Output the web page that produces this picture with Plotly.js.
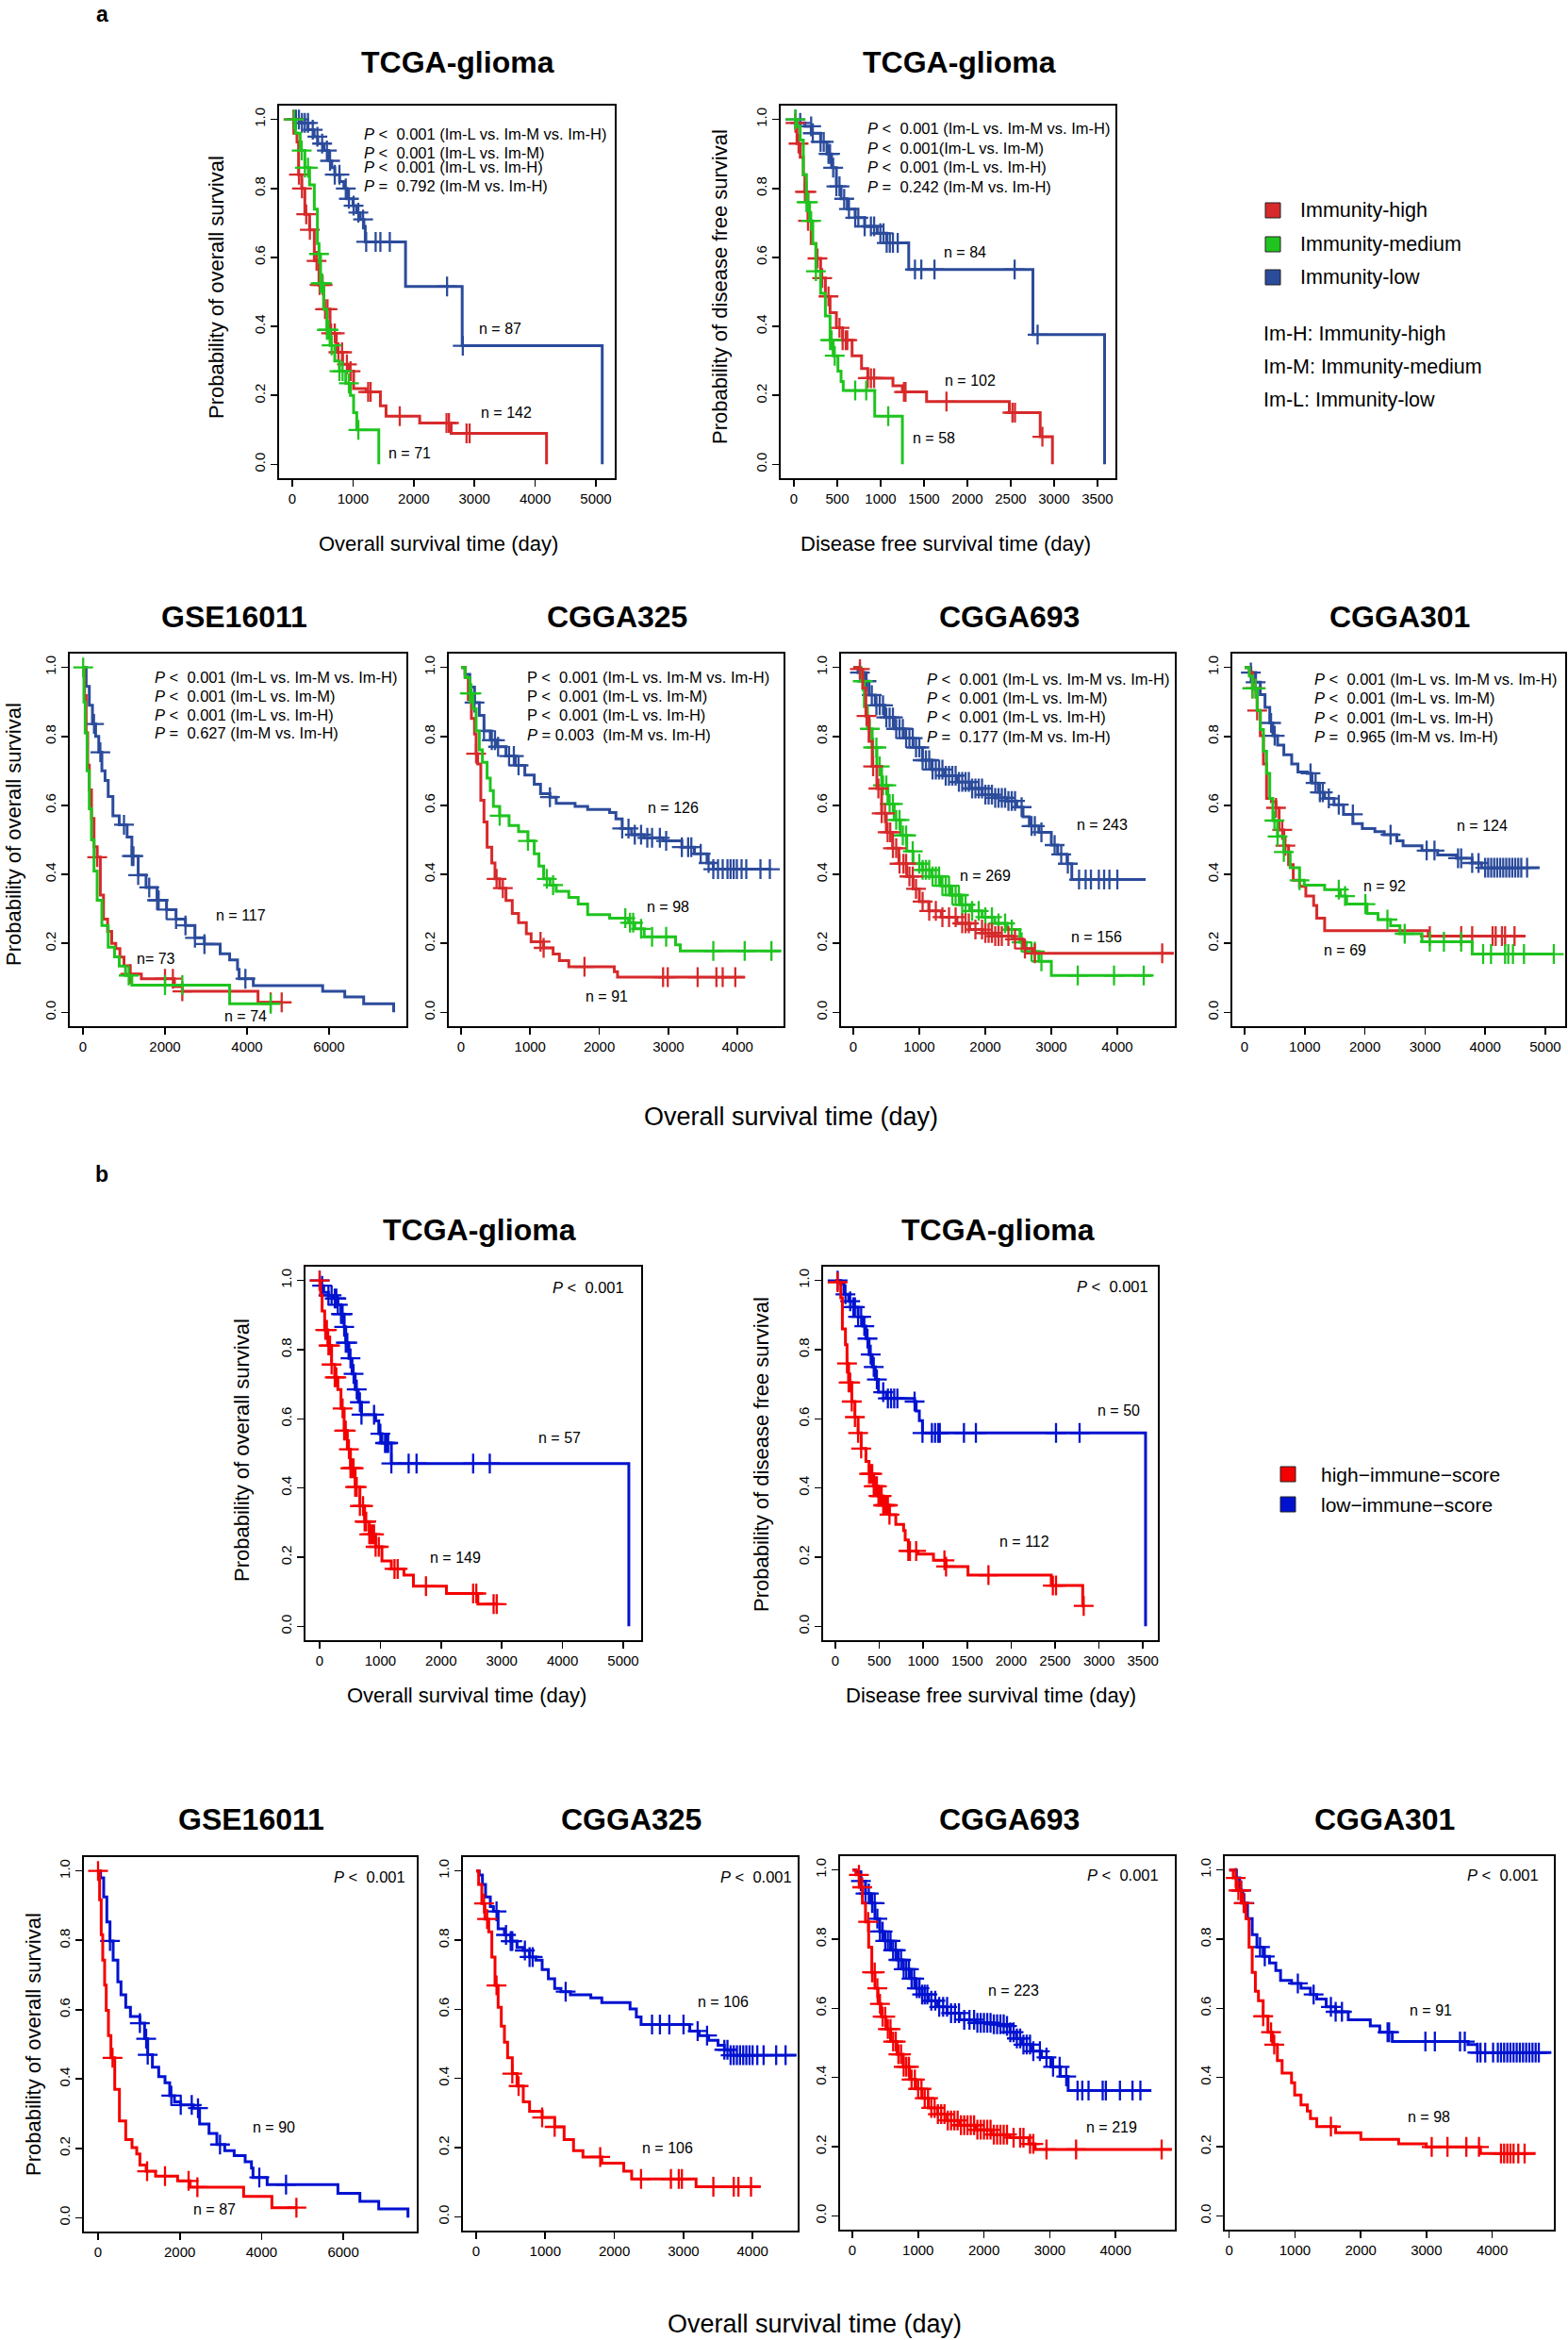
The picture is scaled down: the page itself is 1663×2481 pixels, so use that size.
<!DOCTYPE html>
<html><head><meta charset="utf-8">
<script src="https://cdn.plot.ly/plotly-3.0.1.min.js"></script>
<style>html,body{margin:0;padding:0;background:#fff}#chart{width:1663px;height:2481px}</style>
</head><body><div id="chart"></div>
<script>
// ===================== DATA (Kaplan-Meier curves) =====================
// ---- a: TCGA-glioma overall survival ----
const a1_high_t = [0, 26, 78, 104, 155, 207, 285, 363, 440, 518, 622, 725, 829, 932, 1010, 1217, 1451, 1544, 2098, 2616, 4187];
const a1_high_s = [1, 0.96, 0.935, 0.84, 0.80, 0.725, 0.68, 0.59, 0.52, 0.45, 0.38, 0.325, 0.29, 0.27, 0.22, 0.21, 0.17, 0.14, 0.12, 0.09, 0];
const a1_high_c = [20, 110, 160, 230, 290, 400, 450, 500, 540, 580, 640, 700, 760, 820, 900, 960, 1250, 1290, 1770, 2540, 2580, 2870, 2920];
const a1_mid_t = [0, 52, 130, 207, 285, 363, 414, 440, 466, 518, 570, 622, 700, 777, 881, 958, 1010, 1062, 1425];
const a1_mid_s = [1, 0.96, 0.91, 0.86, 0.81, 0.74, 0.64, 0.61, 0.525, 0.45, 0.39, 0.345, 0.30, 0.27, 0.235, 0.20, 0.15, 0.10, 0];
const a1_mid_c = [30, 155, 207, 259, 440, 466, 492, 570, 596, 648, 777, 829, 932, 1088];
const a1_low_t = [0, 150, 260, 360, 420, 520, 600, 650, 700, 780, 850, 900, 1000, 1060, 1120, 1180, 1202, 1865, 2798, 5104];
const a1_low_s = [1, 0.99, 0.97, 0.95, 0.93, 0.91, 0.88, 0.86, 0.84, 0.82, 0.80, 0.77, 0.75, 0.73, 0.71, 0.69, 0.645, 0.516, 0.344, 0];
const a1_low_c = [60, 110, 160, 207, 259, 337, 414, 492, 570, 622, 700, 777, 881, 933, 1010, 1088, 1166, 1217, 1373, 1451, 1606, 2549, 2808];
const a1_n_text = ['n = 87', 'n = 142', 'n = 71'];
const a1_n_t = [3419, 3522, 1932];
const a1_n_s = [0.394, 0.151, 0.032];
const a1_p_text = ['<i>P</i> <\u00a0 0.001 (Im-L vs. Im-M vs. Im-H)', '<i>P</i> <\u00a0 0.001 (Im-L vs. Im-M)', '<i>P</i> <\u00a0 0.001 (Im-L vs. Im-H)', '<i>P</i> =\u00a0 0.792 (Im-M vs. Im-H)'];
const a1_p_s = [0.957, 0.904, 0.862, 0.807];

// ---- a: TCGA-glioma disease free survival ----
const a2_high_t = [0, 18, 36, 73, 109, 127, 163, 199, 254, 308, 363, 417, 490, 562, 671, 780, 852, 1142, 1251, 1530, 2484, 2840, 2981];
const a2_high_s = [1, 0.99, 0.93, 0.89, 0.84, 0.79, 0.706, 0.64, 0.597, 0.54, 0.487, 0.44, 0.396, 0.36, 0.315, 0.278, 0.25, 0.228, 0.21, 0.182, 0.15, 0.08, 0];
const a2_high_c = [18, 54, 127, 145, 163, 272, 326, 399, 526, 562, 598, 616, 852, 888, 925, 1269, 1287, 1759, 2520, 2549, 2865];
const a2_mid_t = [0, 36, 73, 109, 145, 181, 218, 254, 308, 363, 417, 453, 508, 544, 569, 932, 1251];
const a2_mid_s = [1, 0.98, 0.94, 0.84, 0.76, 0.706, 0.64, 0.56, 0.496, 0.43, 0.36, 0.315, 0.27, 0.24, 0.214, 0.14, 0];
const a2_mid_c = [18, 145, 163, 199, 254, 417, 435, 471, 707, 834, 1088];
const a2_low_t = [0, 36, 127, 200, 308, 381, 435, 490, 544, 616, 707, 816, 961, 1070, 1324, 2756, 3582];
const a2_low_s = [1, 0.99, 0.98, 0.96, 0.935, 0.90, 0.86, 0.806, 0.77, 0.74, 0.715, 0.69, 0.67, 0.642, 0.565, 0.376, 0];
const a2_low_c = [18, 73, 199, 218, 308, 344, 399, 417, 453, 490, 526, 580, 635, 707, 743, 816, 888, 925, 997, 1033, 1070, 1106, 1142, 1197, 1396, 1469, 1621, 2545, 2810];
const a2_n_text = ['n = 84', 'n = 102', 'n = 58'];
const a2_n_t = [1969, 2034, 1614];
const a2_n_s = [0.615, 0.243, 0.077];
const a2_p_text = ['<i>P</i> <\u00a0 0.001 (Im-L vs. Im-M vs. Im-H)', '<i>P</i> <\u00a0 0.001(Im-L vs. Im-M)', '<i>P</i> <\u00a0 0.001 (Im-L vs. Im-H)', '<i>P</i> =\u00a0 0.242 (Im-M vs. Im-H)'];
const a2_p_s = [0.975, 0.917, 0.861, 0.806];

// ---- a: GSE16011 ----
const a3_high_t = [0, 38, 77, 115, 154, 208, 269, 346, 423, 500, 600, 700, 800, 900, 1000, 1150, 1423, 2230, 2422, 4268, 4845];
const a3_high_s = [1, 0.918, 0.81, 0.717, 0.645, 0.562, 0.48, 0.45, 0.34, 0.27, 0.235, 0.2, 0.185, 0.16, 0.135, 0.111, 0.0975, 0.075, 0.061, 0.029, 0.029];
const a3_high_c = [346, 1153, 2000, 2192, 2422, 4576, 4845];
const a3_mid_t = [0, 23, 54, 100, 154, 208, 269, 346, 461, 615, 769, 884, 1038, 1192, 3576, 4576];
const a3_mid_s = [1, 0.90, 0.81, 0.70, 0.59, 0.50, 0.41, 0.325, 0.252, 0.189, 0.161, 0.134, 0.107, 0.079, 0.025, 0.025];
const a3_mid_c = [5, 1115, 2000, 2422, 4576];
const a3_low_t = [0, 77, 154, 231, 308, 385, 461, 538, 615, 730, 884, 1076, 1192, 1346, 1538, 1807, 2038, 2269, 2499, 2730, 2961, 3345, 3576, 3768, 3807, 4153, 5844, 6383, 6844, 7575];
const a3_low_s = [1, 0.945, 0.89, 0.836, 0.80, 0.754, 0.70, 0.672, 0.626, 0.57, 0.544, 0.508, 0.453, 0.398, 0.362, 0.325, 0.298, 0.27, 0.252, 0.216, 0.198, 0.17, 0.152, 0.125, 0.0975, 0.0775, 0.061, 0.045, 0.025, 0];
const a3_low_c = [269, 423, 1000, 1192, 1230, 1346, 1615, 1807, 1845, 2038, 2269, 2499, 2730, 2961, 3960];
const a3_n_text = ['n = 117', 'n= 73', 'n = 74'];
const a3_n_t = [3845, 1792, 3960];
const a3_n_s = [0.282, 0.155, -0.012];
const a3_p_text = ['<i>P</i> <\u00a0 0.001 (Im-L vs. Im-M vs. Im-H)', '<i>P</i> <\u00a0 0.001 (Im-L vs. Im-M)', '<i>P</i> <\u00a0 0.001 (Im-L vs. Im-H)', '<i>P</i> =\u00a0 0.627 (Im-M vs. Im-H)'];
const a3_p_s = [0.973, 0.918, 0.863, 0.809];

// ---- a: CGGA325 ----
const a4_high_t = [0, 59, 105, 150, 195, 218, 241, 286, 332, 377, 445, 491, 559, 650, 741, 832, 945, 1014, 1195, 1332, 1423, 1559, 2218, 2264, 4105];
const a4_high_s = [1, 0.971, 0.907, 0.852, 0.807, 0.75, 0.72, 0.615, 0.552, 0.479, 0.433, 0.387, 0.36, 0.324, 0.287, 0.26, 0.228, 0.205, 0.187, 0.169, 0.15, 0.132, 0.118, 0.102, 0.102];
const a4_high_c = [218, 514, 605, 1150, 1195, 1786, 2923, 2991, 3423, 3695, 3786, 3968];
const a4_mid_t = [0, 59, 127, 173, 218, 264, 309, 377, 423, 468, 559, 695, 832, 968, 1059, 1127, 1195, 1286, 1377, 1559, 1695, 1832, 2150, 2423, 2514, 2650, 3104, 3172, 4627];
const a4_mid_s = [1, 0.971, 0.925, 0.88, 0.816, 0.761, 0.725, 0.679, 0.643, 0.597, 0.57, 0.542, 0.524, 0.497, 0.46, 0.424, 0.387, 0.369, 0.351, 0.333, 0.314, 0.283, 0.273, 0.26, 0.242, 0.219, 0.196, 0.178, 0.178];
const a4_mid_c = [127, 150, 559, 968, 1241, 1332, 2377, 2445, 2491, 2605, 2764, 2968, 3650, 4104, 4491];
const a4_low_t = [0, 59, 127, 195, 264, 332, 423, 514, 650, 786, 923, 1059, 1150, 1286, 1377, 1650, 1832, 2150, 2241, 2332, 2468, 2650, 2923, 3195, 3377, 3559, 3650, 4491];
const a4_low_s = [1, 0.98, 0.943, 0.898, 0.861, 0.816, 0.789, 0.77, 0.743, 0.716, 0.688, 0.661, 0.634, 0.624, 0.606, 0.597, 0.588, 0.579, 0.561, 0.533, 0.515, 0.506, 0.497, 0.479, 0.46, 0.433, 0.415, 0.415];
const a4_low_c = [195, 332, 445, 491, 536, 695, 764, 832, 1286, 2332, 2423, 2514, 2605, 2695, 2764, 2877, 2968, 3195, 3286, 3332, 3468, 3582, 3650, 3718, 3786, 3855, 3900, 3945, 3991, 4059, 4127, 4332, 4468];
const a4_n_text = ['n = 126', 'n = 98', 'n = 91'];
const a4_n_t = [3073, 2991, 2104];
const a4_n_s = [0.593, 0.305, 0.046];
const a4_p_text = ['P <\u00a0 0.001 (Im-L vs. Im-M vs. Im-H)', 'P <\u00a0 0.001 (Im-L vs. Im-M)', 'P <\u00a0 0.001 (Im-L vs. Im-H)', '<i>P</i> = 0.003\u00a0 (Im-M vs. Im-H)'];
const a4_p_s = [0.971, 0.916, 0.861, 0.805];

// ---- a: CGGA693 ----
const a5_high_t = [0, 95, 143, 190, 238, 286, 357, 429, 500, 595, 690, 810, 905, 1000, 1143, 1333, 1571, 1762, 1952, 2143, 2429, 2571, 2714, 4857];
const a5_high_s = [1, 0.995, 0.94, 0.859, 0.786, 0.713, 0.649, 0.577, 0.522, 0.476, 0.431, 0.394, 0.358, 0.321, 0.294, 0.276, 0.258, 0.24, 0.23, 0.221, 0.212, 0.185, 0.171, 0.171];
const a5_high_c = [100, 200, 300, 380, 430, 480, 520, 560, 600, 650, 700, 760, 800, 850, 900, 950, 1050, 1150, 1250, 1350, 1450, 1550, 1650, 1700, 1750, 1850, 1950, 2000, 2050, 2100, 2150, 2200, 2250, 2350, 2450, 2600, 2750, 4680];
const a5_mid_t = [0, 119, 167, 214, 286, 357, 429, 524, 619, 714, 810, 905, 1048, 1190, 1333, 1476, 1619, 1762, 1952, 2143, 2333, 2524, 2619, 2810, 3000, 4524];
const a5_mid_s = [1, 0.96, 0.886, 0.822, 0.768, 0.713, 0.658, 0.604, 0.558, 0.513, 0.467, 0.431, 0.413, 0.394, 0.367, 0.34, 0.312, 0.294, 0.276, 0.258, 0.24, 0.203, 0.176, 0.148, 0.107, 0.107];
const a5_mid_c = [143, 250, 300, 350, 400, 450, 500, 550, 600, 650, 700, 750, 800, 900, 1000, 1050, 1100, 1150, 1200, 1250, 1300, 1350, 1400, 1450, 1500, 1550, 1600, 1650, 1700, 1800, 1900, 2000, 2100, 2200, 2300, 2400, 2550, 2700, 2750, 2850, 3400, 3950, 4400];
const a5_low_t = [0, 71, 167, 238, 333, 476, 619, 762, 905, 1048, 1190, 1381, 1571, 1762, 1952, 2143, 2333, 2476, 2571, 2667, 2810, 3000, 3095, 3238, 3310, 4429];
const a5_low_s = [1, 0.985, 0.96, 0.92, 0.89, 0.855, 0.822, 0.795, 0.768, 0.731, 0.704, 0.686, 0.668, 0.649, 0.631, 0.622, 0.613, 0.595, 0.567, 0.54, 0.522, 0.485, 0.458, 0.431, 0.385, 0.385];
const a5_low_c = [100, 200, 280, 350, 400, 450, 500, 550, 600, 650, 700, 750, 800, 850, 900, 950, 1000, 1050, 1100, 1150, 1200, 1250, 1300, 1350, 1400, 1450, 1500, 1550, 1600, 1650, 1700, 1750, 1800, 1850, 1900, 1950, 2000, 2050, 2100, 2150, 2200, 2250, 2300, 2350, 2400, 2450, 2550, 2700, 2750, 2850, 3050, 3150, 3250, 3420, 3520, 3600, 3720, 3800, 3880, 4000];
const a5_n_text = ['n = 243', 'n = 269', 'n = 156'];
const a5_n_t = [3767, 2005, 3686];
const a5_n_s = [0.545, 0.397, 0.219];
const a5_p_text = ['<i>P</i> <\u00a0 0.001 (Im-L vs. Im-M vs. Im-H)', '<i>P</i> <\u00a0 0.001 (Im-L vs. Im-M)', '<i>P</i> <\u00a0 0.001 (Im-L vs. Im-H)', '<i>P</i> =\u00a0 0.177 (Im-M vs. Im-H)'];
const a5_p_s = [0.965, 0.912, 0.857, 0.80];

// ---- a: CGGA301 ----
const a6_high_t = [0, 78, 130, 209, 261, 313, 365, 444, 522, 574, 652, 731, 809, 913, 1018, 1148, 1200, 1331, 3053, 4671];
const a6_high_s = [1, 0.985, 0.939, 0.875, 0.802, 0.72, 0.62, 0.611, 0.593, 0.529, 0.483, 0.428, 0.383, 0.365, 0.337, 0.31, 0.273, 0.237, 0.221, 0.221];
const a6_high_c = [130, 183, 209, 522, 626, 678, 3079, 3601, 3784, 4123, 4175, 4279, 4331, 4488];
const a6_mid_t = [0, 78, 130, 209, 261, 313, 365, 418, 470, 548, 652, 757, 913, 992, 1331, 1592, 1696, 2035, 2218, 2427, 2583, 2949, 3784, 5141];
const a6_mid_s = [1, 0.975, 0.939, 0.875, 0.82, 0.757, 0.693, 0.62, 0.556, 0.51, 0.465, 0.419, 0.383, 0.369, 0.356, 0.337, 0.314, 0.287, 0.269, 0.251, 0.228, 0.205, 0.169, 0.169];
const a6_mid_c = [130, 183, 496, 548, 652, 913, 1566, 1670, 2009, 2375, 2662, 3079, 3314, 3601, 3966, 4097, 4331, 4384, 4462, 4645, 5141];
const a6_low_t = [0, 104, 183, 261, 339, 418, 470, 548, 652, 783, 887, 1044, 1122, 1226, 1331, 1487, 1644, 1801, 1957, 2166, 2322, 2531, 2635, 2949, 3210, 3523, 3784, 3940, 4906];
const a6_low_s = [1, 0.985, 0.957, 0.921, 0.884, 0.839, 0.802, 0.775, 0.747, 0.72, 0.697, 0.693, 0.665, 0.638, 0.62, 0.602, 0.574, 0.547, 0.533, 0.524, 0.515, 0.497, 0.483, 0.469, 0.456, 0.447, 0.433, 0.419, 0.419];
const a6_low_c = [104, 183, 440, 500, 1096, 1180, 1252, 1300, 1400, 1566, 1800, 2427, 3027, 3157, 3549, 3601, 3784, 3890, 4000, 4050, 4100, 4150, 4200, 4250, 4300, 4350, 4400, 4450, 4500, 4550, 4600, 4697];
const a6_n_text = ['n = 124', 'n = 92', 'n = 69'];
const a6_n_t = [3956, 2333, 1670];
const a6_n_s = [0.542, 0.367, 0.18];
const a6_p_text = ['<i>P</i> <\u00a0 0.001 (Im-L vs. Im-M vs. Im-H)', '<i>P</i> <\u00a0 0.001 (Im-L vs. Im-M)', '<i>P</i> <\u00a0 0.001 (Im-L vs. Im-H)', '<i>P</i> =\u00a0 0.965 (Im-M vs. Im-H)'];
const a6_p_s = [0.966, 0.912, 0.855, 0.80];

// ---- b: TCGA-glioma overall survival ----
const b1_high_t = [0, 16, 41, 83, 135, 197, 249, 300, 352, 404, 456, 508, 585, 663, 741, 818, 922, 1026, 1181, 1388, 1544, 2088, 2606, 2942];
const b1_high_s = [1, 0.957, 0.912, 0.857, 0.812, 0.757, 0.72, 0.685, 0.63, 0.566, 0.512, 0.457, 0.403, 0.348, 0.303, 0.266, 0.23, 0.189, 0.166, 0.148, 0.116, 0.095, 0.064, 0.064];
const b1_high_c = [0, 93, 119, 145, 171, 197, 249, 275, 378, 404, 430, 482, 508, 534, 559, 585, 611, 663, 715, 741, 767, 818, 844, 870, 896, 922, 974, 1233, 1285, 1751, 2528, 2580, 2865, 2916];
const b1_low_t = [0, 16, 67, 145, 223, 300, 352, 404, 430, 482, 534, 585, 637, 689, 922, 974, 1026, 1181, 5092];
const b1_low_s = [1, 0.985, 0.966, 0.957, 0.948, 0.93, 0.903, 0.866, 0.82, 0.775, 0.73, 0.685, 0.648, 0.612, 0.594, 0.557, 0.53, 0.471, 0];
const b1_low_c = [0, 41, 145, 197, 249, 275, 300, 352, 378, 404, 430, 456, 508, 559, 611, 663, 689, 896, 1000, 1077, 1103, 1129, 1181, 1466, 1596, 2528, 2802];
const b1_n_text = ['n = 57', 'n = 149'];
const b1_n_t = [3952, 2243];
const b1_n_s = [0.544, 0.198];
const b1_p_t = 5040, b1_p_s = 0.98;

// ---- b: TCGA-glioma disease free survival ----
const b2_high_t = [0, 25, 61, 79, 114, 132, 150, 186, 222, 258, 293, 347, 383, 436, 490, 544, 615, 687, 776, 794, 830, 937, 1116, 1259, 1509, 2457, 2815, 2833];
const b2_high_s = [1, 0.995, 0.95, 0.86, 0.814, 0.76, 0.705, 0.65, 0.605, 0.559, 0.514, 0.477, 0.441, 0.405, 0.377, 0.35, 0.323, 0.295, 0.277, 0.25, 0.218, 0.209, 0.191, 0.173, 0.148, 0.118, 0.059, 0.059];
const b2_high_c = [25, 132, 150, 168, 186, 222, 258, 293, 383, 401, 419, 436, 454, 472, 490, 508, 526, 544, 562, 579, 597, 615, 830, 848, 919, 1241, 1259, 1742, 2475, 2511, 2826];
const b2_low_t = [0, 61, 97, 150, 204, 258, 311, 347, 383, 419, 454, 490, 579, 901, 919, 955, 991, 3530];
const b2_low_s = [1, 0.99, 0.96, 0.94, 0.923, 0.895, 0.868, 0.832, 0.786, 0.75, 0.714, 0.677, 0.659, 0.65, 0.623, 0.595, 0.559, 0];
const b2_low_c = [25, 114, 168, 204, 222, 258, 293, 329, 365, 401, 436, 472, 544, 597, 633, 669, 705, 901, 991, 1098, 1134, 1170, 1188, 1463, 1599, 2511, 2779];
const b2_n_text = ['n = 50', 'n = 112'];
const b2_n_t = [3226, 2153];
const b2_n_s = [0.623, 0.245];
const b2_p_t = 3584, b2_p_s = 0.982;

// ---- b: GSE16011 ----
const b3_high_t = [0, 38, 77, 115, 161, 200, 254, 315, 408, 523, 677, 831, 946, 1023, 1177, 1407, 1946, 2253, 3561, 4253, 4853];
const b3_high_s = [1, 0.917, 0.816, 0.743, 0.671, 0.598, 0.525, 0.461, 0.37, 0.279, 0.225, 0.202, 0.184, 0.152, 0.134, 0.12, 0.106, 0.088, 0.061, 0.029, 0.029];
const b3_high_c = [0, 354, 1200, 1638, 2215, 2430, 4853];
const b3_low_t = [0, 62, 138, 215, 292, 369, 484, 561, 677, 792, 1023, 1138, 1215, 1330, 1484, 1638, 1753, 1869, 2023, 2330, 2484, 2715, 2907, 3099, 3330, 3599, 3753, 3791, 4137, 5868, 6406, 6867, 7582];
const b3_low_s = [1, 0.98, 0.925, 0.853, 0.798, 0.743, 0.68, 0.643, 0.607, 0.58, 0.561, 0.516, 0.47, 0.434, 0.407, 0.389, 0.352, 0.334, 0.325, 0.316, 0.27, 0.243, 0.211, 0.193, 0.179, 0.161, 0.143, 0.116, 0.095, 0.07, 0.047, 0.025, 0];
const b3_low_c = [292, 1023, 1177, 1215, 1792, 2023, 2292, 2445, 2984, 3945, 4599];
const b3_n_text = ['n = 90', 'n = 87'];
const b3_n_t = [4299, 2845];
const b3_n_s = [0.261, 0.025];
const b3_p_t = 7559, b3_p_s = 0.984;

// ---- b: CGGA325 ----
const b4_high_t = [0, 36, 82, 127, 182, 227, 273, 318, 364, 409, 455, 523, 591, 682, 773, 955, 1136, 1273, 1409, 1545, 1818, 2136, 2250, 3182, 4113];
const b4_high_s = [1, 0.961, 0.906, 0.861, 0.824, 0.751, 0.669, 0.606, 0.551, 0.505, 0.46, 0.414, 0.378, 0.332, 0.305, 0.287, 0.26, 0.223, 0.191, 0.173, 0.155, 0.132, 0.109, 0.087, 0.087];
const b4_high_c = [114, 159, 295, 523, 614, 955, 1136, 1795, 2386, 2818, 2932, 2977, 3432, 3727, 3795, 3977];
const b4_low_t = [0, 45, 91, 136, 205, 250, 318, 409, 500, 591, 682, 773, 864, 955, 1045, 1136, 1227, 1364, 1659, 1818, 2227, 2318, 2386, 3091, 3227, 3364, 3500, 3591, 3682, 4636];
const b4_low_s = [1, 0.988, 0.961, 0.925, 0.897, 0.883, 0.833, 0.815, 0.797, 0.779, 0.77, 0.751, 0.742, 0.715, 0.688, 0.66, 0.651, 0.642, 0.633, 0.619, 0.601, 0.578, 0.556, 0.537, 0.524, 0.51, 0.496, 0.483, 0.467, 0.467];
const b4_low_c = [295, 432, 500, 523, 705, 773, 818, 1295, 2545, 2659, 2795, 3000, 3205, 3341, 3591, 3636, 3682, 3727, 3773, 3818, 3864, 3909, 3955, 4000, 4068, 4159, 4341, 4477];
const b4_n_text = ['n = 106', 'n = 106'];
const b4_n_t = [3572, 2773];
const b4_n_s = [0.622, 0.20];
const b4_p_t = 4591, b4_p_s = 0.984;

// ---- b: CGGA693 ----
const b5_high_t = [0, 57, 105, 153, 200, 248, 296, 344, 391, 439, 511, 582, 678, 773, 869, 964, 1060, 1155, 1298, 1441, 1632, 1871, 2110, 2396, 2682, 2778, 4854];
const b5_high_s = [1, 0.986, 0.95, 0.904, 0.85, 0.777, 0.704, 0.658, 0.613, 0.576, 0.54, 0.504, 0.467, 0.431, 0.394, 0.367, 0.34, 0.312, 0.294, 0.276, 0.262, 0.249, 0.235, 0.226, 0.208, 0.192, 0.192];
const b5_high_c = [100, 150, 240, 300, 340, 380, 420, 460, 500, 540, 580, 620, 660, 700, 740, 780, 820, 860, 900, 950, 1000, 1050, 1100, 1150, 1200, 1250, 1300, 1350, 1400, 1450, 1500, 1550, 1600, 1650, 1700, 1750, 1800, 1850, 1900, 1950, 2000, 2050, 2100, 2150, 2200, 2250, 2300, 2350, 2450, 2550, 2600, 2700, 2750, 2950, 3400, 4700];
const b5_low_t = [0, 57, 129, 200, 272, 344, 415, 487, 582, 678, 773, 869, 964, 1060, 1155, 1298, 1441, 1632, 1871, 2110, 2301, 2396, 2492, 2587, 2730, 2873, 3016, 3160, 3279, 4544];
const b5_low_s = [1, 0.995, 0.968, 0.932, 0.904, 0.859, 0.822, 0.795, 0.768, 0.74, 0.713, 0.686, 0.658, 0.64, 0.622, 0.604, 0.586, 0.567, 0.558, 0.554, 0.549, 0.531, 0.513, 0.495, 0.476, 0.458, 0.431, 0.403, 0.362, 0.362];
const b5_low_c = [130, 200, 250, 300, 340, 380, 420, 460, 500, 540, 580, 620, 660, 700, 740, 780, 820, 860, 900, 940, 980, 1020, 1060, 1100, 1140, 1200, 1260, 1320, 1380, 1440, 1500, 1560, 1620, 1700, 1780, 1850, 1900, 1950, 2000, 2050, 2100, 2150, 2200, 2250, 2300, 2350, 2400, 2450, 2500, 2550, 2600, 2650, 2700, 2750, 2850, 2950, 3050, 3150, 3250, 3422, 3494, 3589, 3804, 3852, 4066, 4257, 4377];
const b5_n_text = ['n = 223', 'n = 219'];
const b5_n_t = [2444, 3942];
const b5_n_s = [0.652, 0.256];
const b5_p_t = 4687, b5_p_s = 0.985;

// ---- b: CGGA301 ----
const b6_high_t = [0, 62, 110, 182, 254, 302, 350, 398, 445, 517, 589, 661, 733, 805, 948, 996, 1092, 1188, 1236, 1332, 1619, 2002, 2577, 2998, 3822, 4661];
const b6_high_s = [1, 0.977, 0.941, 0.904, 0.859, 0.777, 0.704, 0.649, 0.622, 0.577, 0.531, 0.495, 0.449, 0.413, 0.385, 0.349, 0.321, 0.303, 0.281, 0.258, 0.24, 0.221, 0.208, 0.199, 0.18, 0.18];
const b6_high_c = [100, 140, 180, 220, 517, 637, 685, 1547, 3080, 3320, 3607, 3799, 4134, 4182, 4230, 4277, 4325, 4397, 4493];
const b6_low_t = [0, 110, 158, 206, 278, 350, 422, 517, 613, 709, 781, 948, 1092, 1236, 1332, 1475, 1619, 1811, 2146, 2290, 2481, 3631, 3775, 4900];
const b6_low_s = [1, 0.977, 0.941, 0.904, 0.859, 0.813, 0.777, 0.75, 0.731, 0.709, 0.681, 0.672, 0.658, 0.64, 0.627, 0.604, 0.59, 0.567, 0.549, 0.531, 0.504, 0.495, 0.472, 0.472];
const b6_low_c = [182, 230, 469, 541, 1044, 1284, 1547, 1619, 1715, 2409, 2433, 2984, 3128, 3511, 3583, 3775, 3822, 3894, 4014, 4086, 4134, 4182, 4230, 4277, 4325, 4373, 4421, 4469, 4517, 4565, 4613, 4661, 4709];
const b6_n_text = ['n = 91', 'n = 98'];
const b6_n_t = [3066, 3032];
const b6_n_s = [0.595, 0.287];
const b6_p_t = 4733, b6_p_s = 0.986;

// ---- legends / tick labels ----
const legendA = ['Immunity-high', 'Immunity-medium', 'Immunity-low'];
const legendA2 = ['Im-H: Immunity-high', 'Im-M: Immunity-medium', 'Im-L: Immunity-low'];
const legendB = ['high\u2212immune\u2212score', 'low\u2212immune\u2212score'];
const yTickVals = [0, 0.2, 0.4, 0.6, 0.8, 1.0];
const yTickText = ['0.0', '0.2', '0.4', '0.6', '0.8', '1.0'];

// ===================== STYLE / LAYOUT =====================
const W = 1663, H = 2481;
const FONT = 'Liberation Sans, Arial, Helvetica, sans-serif';
const CA = {high: '#d62a2b', mid: '#1fc41f', low: '#2b4b9b'};
const CB = {high: '#f40000', low: '#0012d0'};
const PX = x => x / W, PY = y => 1 - y / H;

function stepAt(ts, ss, t) {
  let v = ss[0];
  for (let i = 0; i < ts.length; i++) { if (ts[i] <= t) v = ss[i]; else break; }
  return v;
}

const panels = [
  {box: [296, 112, 652, 507], xr: [-217, 5310], dt: 1000, col: CA,
   curves: [['low', a1_low_t, a1_low_s, a1_low_c], ['high', a1_high_t, a1_high_s, a1_high_c], ['mid', a1_mid_t, a1_mid_s, a1_mid_c]],
   n: [a1_n_text, a1_n_t, a1_n_s], p: {text: a1_p_text, t: 1150, s: a1_p_s}},
  {box: [828, 112, 1183, 507], xr: [-152, 3707], dt: 500, col: CA,
   curves: [['low', a2_low_t, a2_low_s, a2_low_c], ['high', a2_high_t, a2_high_s, a2_high_c], ['mid', a2_mid_t, a2_mid_s, a2_mid_c]],
   n: [a2_n_text, a2_n_t, a2_n_s], p: {text: a2_p_text, t: 823, s: a2_p_s}},
  {box: [74, 693, 431, 1088], xr: [-322, 7885], dt: 2000, col: CA,
   curves: [['low', a3_low_t, a3_low_s, a3_low_c], ['high', a3_high_t, a3_high_s, a3_high_c], ['mid', a3_mid_t, a3_mid_s, a3_mid_c]],
   n: [a3_n_text, a3_n_t, a3_n_s], p: {text: a3_p_text, t: 1692, s: a3_p_s}},
  {box: [476, 693, 831, 1088], xr: [-177, 4666], dt: 1000, col: CA,
   curves: [['low', a4_low_t, a4_low_s, a4_low_c], ['high', a4_high_t, a4_high_s, a4_high_c], ['mid', a4_mid_t, a4_mid_s, a4_mid_c]],
   n: [a4_n_text, a4_n_t, a4_n_s], p: {text: a4_p_text, t: 923, s: a4_p_s}},
  {box: [892, 693, 1246, 1088], xr: [-186, 4871], dt: 1000, col: CA,
   curves: [['low', a5_low_t, a5_low_s, a5_low_c], ['mid', a5_mid_t, a5_mid_s, a5_mid_c], ['high', a5_high_t, a5_high_s, a5_high_c]],
   n: [a5_n_text, a5_n_t, a5_n_s], p: {text: a5_p_text, t: 1086, s: a5_p_s}},
  {box: [1307, 693, 1660, 1088], xr: [-204, 5330], dt: 1000, col: CA,
   curves: [['low', a6_low_t, a6_low_s, a6_low_c], ['high', a6_high_t, a6_high_s, a6_high_c], ['mid', a6_mid_t, a6_mid_s, a6_mid_c]],
   n: [a6_n_text, a6_n_t, a6_n_s], p: {text: a6_p_text, t: 1122, s: a6_p_s}},
  {box: [324, 1343, 680, 1739], xr: [-233, 5295], dt: 1000, col: CB,
   curves: [['low', b1_low_t, b1_low_s, b1_low_c], ['high', b1_high_t, b1_high_s, b1_high_c]],
   n: [b1_n_text, b1_n_t, b1_n_s], pb: [b1_p_t, b1_p_s]},
  {box: [873, 1343, 1228, 1739], xr: [-140, 3670], dt: 500, col: CB,
   curves: [['low', b2_low_t, b2_low_s, b2_low_c], ['high', b2_high_t, b2_high_s, b2_high_c]],
   n: [b2_n_text, b2_n_t, b2_n_s], pb: [b2_p_t, b2_p_s]},
  {box: [89, 1969, 442, 2366], xr: [-346, 7797], dt: 2000, col: CB,
   curves: [['low', b3_low_t, b3_low_s, b3_low_c], ['high', b3_high_t, b3_high_s, b3_high_c]],
   n: [b3_n_text, b3_n_t, b3_n_s], pb: [b3_p_t, b3_p_s]},
  {box: [491, 1969, 846, 2365], xr: [-191, 4652], dt: 1000, col: CB,
   curves: [['low', b4_low_t, b4_low_s, b4_low_c], ['high', b4_high_t, b4_high_s, b4_high_c]],
   n: [b4_n_text, b4_n_t, b4_n_s], pb: [b4_p_t, b4_p_s]},
  {box: [891, 1968, 1246, 2364], xr: [-186, 4900], dt: 1000, col: CB,
   curves: [['low', b5_low_t, b5_low_s, b5_low_c], ['high', b5_high_t, b5_high_s, b5_high_c]],
   n: [b5_n_text, b5_n_t, b5_n_s], pb: [b5_p_t, b5_p_s]},
  {box: [1299, 1968, 1648, 2364], xr: [-67, 4938], dt: 1000, col: CB,
   curves: [['low', b6_low_t, b6_low_s, b6_low_c], ['high', b6_high_t, b6_high_s, b6_high_c]],
   n: [b6_n_text, b6_n_t, b6_n_s], pb: [b6_p_t, b6_p_s]}
];

const traces = [];
const annotations = [];
const shapes = [];
const layout = {
  width: W, height: H, margin: {l: 0, r: 0, t: 0, b: 0},
  paper_bgcolor: '#fff', plot_bgcolor: '#fff', showlegend: false,
  font: {family: FONT, color: '#000'}
};

panels.forEach((p, i) => {
  const k = i + 1;
  const xa = k === 1 ? 'x' : 'x' + k, ya = k === 1 ? 'y' : 'y' + k;
  const [x0, y0, x1, y1] = p.box;
  layout['xaxis' + (k === 1 ? '' : k)] = {
    domain: [PX(x0), PX(x1)], range: p.xr, anchor: ya,
    showline: true, mirror: true, linecolor: '#000', linewidth: 2,
    ticks: 'outside', ticklen: 7, tickwidth: 1.6, tickcolor: '#000',
    tick0: 0, dtick: p.dt, showgrid: false, zeroline: false,
    tickfont: {size: 15, family: FONT, color: '#000'}, fixedrange: true
  };
  layout['yaxis' + (k === 1 ? '' : k)] = {
    domain: [PY(y1), PY(y0)], range: [-0.04, 1.04], anchor: xa,
    showline: true, mirror: true, linecolor: '#000', linewidth: 2,
    ticks: 'outside', ticklen: 7, tickwidth: 1.6, tickcolor: '#000',
    tickvals: yTickVals, ticktext: yTickText, tickangle: -90,
    showgrid: false, zeroline: false,
    tickfont: {size: 15, family: FONT, color: '#000'}, fixedrange: true
  };
  p.curves.forEach(c => {
    const color = p.col[c[0]];
    const ts = c[1], ss = c[2], cs = c[3];
    traces.push({x: ts, y: ss, type: 'scatter', mode: 'lines', xaxis: xa, yaxis: ya,
      line: {shape: 'hv', color: color, width: 3}, hoverinfo: 'skip', showlegend: false});
    traces.push({x: cs, y: cs.map(t => stepAt(ts, ss, t)), type: 'scatter', mode: 'markers', xaxis: xa, yaxis: ya,
      marker: {symbol: 'cross-thin-open', size: 15, color: color, line: {color: color, width: 2.3}},
      hoverinfo: 'skip', showlegend: false});
  });
  const [nt, nx, ny] = p.n;
  nt.forEach((txt, j) => annotations.push({xref: xa, yref: ya, x: nx[j], y: ny[j], text: txt,
    showarrow: false, xanchor: 'center', yanchor: 'middle', font: {size: 16, family: FONT, color: '#000'}}));
  if (p.p) {
    p.p.text.forEach((txt, j) => annotations.push({xref: xa, yref: ya, x: p.p.t, y: p.p.s[j], text: txt,
      showarrow: false, xanchor: 'left', yanchor: 'middle', font: {size: 16.5, family: FONT, color: '#000'}}));
  }
  if (p.pb) {
    annotations.push({xref: xa, yref: ya, x: p.pb[0], y: p.pb[1], text: '<i>P</i> <\u00a0 0.001',
      showarrow: false, xanchor: 'right', yanchor: 'middle', font: {size: 16.5, family: FONT, color: '#000'}});
  }
});

function paperText(x, y, text, size, opts) {
  annotations.push(Object.assign({xref: 'paper', yref: 'paper', x: PX(x), y: PY(y), text: text,
    showarrow: false, xanchor: 'center', yanchor: 'middle', font: {size: size, family: FONT, color: '#000'}}, opts || {}));
}

// panel letters
paperText(108, 15, '<b>a</b>', 23);
paperText(108, 1245, '<b>b</b>', 23);
// titles
paperText(486, 66, '<b>TCGA-glioma</b>', 32);
paperText(1017, 66, '<b>TCGA-glioma</b>', 32);
paperText(248, 654, '<b>GSE16011</b>', 32);
paperText(654, 654, '<b>CGGA325</b>', 32);
paperText(1070, 654, '<b>CGGA693</b>', 32);
paperText(1484, 654, '<b>CGGA301</b>', 32);
paperText(508, 1304, '<b>TCGA-glioma</b>', 32);
paperText(1058, 1304, '<b>TCGA-glioma</b>', 32);
paperText(266, 1929, '<b>GSE16011</b>', 32);
paperText(669, 1929, '<b>CGGA325</b>', 32);
paperText(1070, 1929, '<b>CGGA693</b>', 32);
paperText(1468, 1929, '<b>CGGA301</b>', 32);
// x-axis titles
paperText(465, 577, 'Overall survival time (day)', 22);
paperText(1003, 577, 'Disease free survival time (day)', 22);
paperText(839, 1184, 'Overall survival time (day)', 27);
paperText(495, 1797, 'Overall survival time (day)', 22);
paperText(1051, 1797, 'Disease free survival time (day)', 22);
paperText(864, 2464, 'Overall survival time (day)', 27);
// y-axis titles
paperText(229, 305, 'Probability of overall survival', 22, {textangle: -90});
paperText(764, 304, 'Probability of disease free survival', 22, {textangle: -90});
paperText(14, 885, 'Probability of overall survival', 22, {textangle: -90});
paperText(256, 1538, 'Probability of overall survival', 22, {textangle: -90});
paperText(807, 1542, 'Probability of disease free survival', 22, {textangle: -90});
paperText(35, 2168, 'Probability of overall survival', 22, {textangle: -90});

// legend a
const legAcols = [CA.high, CA.mid, CA.low];
const legAy = [223, 259, 294];
legendA.forEach((txt, j) => {
  shapes.push({type: 'rect', xref: 'paper', yref: 'paper', x0: PX(1342), x1: PX(1358), y0: PY(legAy[j] + 8), y1: PY(legAy[j] - 8),
    fillcolor: legAcols[j], line: {color: '#222', width: 1}});
  paperText(1377, legAy[j], txt, 21.5, {xanchor: 'left'});
});
const legA2y = [354, 389, 424];
legendA2.forEach((txt, j) => paperText(1338, legA2y[j], txt, 21.5, {xanchor: 'left'}));

// legend b
const legBcols = [CB.high, CB.low];
const legBy = [1563, 1595];
legendB.forEach((txt, j) => {
  shapes.push({type: 'rect', xref: 'paper', yref: 'paper', x0: PX(1358), x1: PX(1374), y0: PY(legBy[j] + 8), y1: PY(legBy[j] - 8),
    fillcolor: legBcols[j], line: {color: '#222', width: 1}});
  paperText(1399, legBy[j], txt, 21, {xanchor: 'left'});
});

layout.annotations = annotations;
layout.shapes = shapes;

Plotly.newPlot('chart', traces, layout, {staticPlot: true, displayModeBar: false});
</script></body></html>
